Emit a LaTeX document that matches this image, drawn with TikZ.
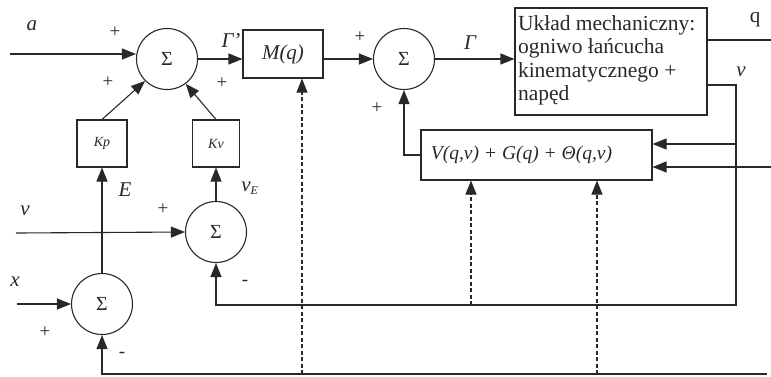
\documentclass[tikz,border=0pt]{standalone}
\usepackage{fontspec}
\setmainfont{Liberation Serif}
\usetikzlibrary{arrows.meta}
\definecolor{ink}{RGB}{40,40,40}
\begin{document}
\begin{tikzpicture}[x=1pt,y=-1pt,color=ink,line width=1.1pt,
  sumnode/.style={circle,draw,minimum size=61pt,inner sep=0pt,font=\fontsize{20}{20}\selectfont},
  blk/.style={rectangle,draw,inner sep=0pt},
  lbl/.style={font=\fontsize{21}{21}\selectfont\itshape,inner sep=0pt},
  sgn/.style={font=\fontsize{19}{19}\selectfont,inner sep=0pt},
  arr/.style={-{Triangle[length=14pt,width=11pt]}},
  dsh/.style={dash pattern=on 4pt off 2.5pt}]
\useasboundingbox (0,0) rectangle (771,376);
% blocks
\node[sumnode] (s1) at (167,59) {Σ};
\node[blk,minimum width=80pt,minimum height=48pt,font=\fontsize{21}{21}\selectfont\itshape] (M) at (283,54) {M(q)};
\node[sumnode] (s2) at (404,59) {Σ};
\node[blk,minimum width=192pt,minimum height=107pt,align=left,font=\fontsize{21.5}{23.5}\selectfont] (B) at (611,61.5)
  {\begin{minipage}{186pt}\vspace*{-2pt}Układ mechaniczny:\\ogniwo łańcucha\\kinematycznego +\\napęd\end{minipage}};
\node[blk,minimum width=50pt,minimum height=47pt,font=\fontsize{14}{14}\selectfont\itshape] (Kp) at (102,143.5) {Kp};
\node[blk,minimum width=47pt,minimum height=47pt,font=\fontsize{14}{14}\selectfont\itshape] (Kv) at (216,143.5) {Kv};
\node[blk,minimum width=231pt,minimum height=50pt,font=\fontsize{19.5}{19.5}\selectfont\itshape] (V) at (536.5,155)
  {\hspace*{-30pt}V(q,v) + G(q) + Θ(q,v)};
\node[sumnode] (s3) at (216,232) {Σ};
\node[sumnode] (s4) at (102,304) {Σ};
% coordinates
\coordinate (ain) at (10,54);
\coordinate (vin) at (16,233);
\coordinate (xin) at (17,304);
\coordinate (qout) at (771,40);
\coordinate (vc) at (736,85);
\coordinate (vbr) at (736,305);
\coordinate (vb1) at (736,144);
\coordinate (qin) at (771,167);
\coordinate (bot) at (767,374);
\coordinate (d1) at (302,374);
\coordinate (d2) at (471,305);
\coordinate (d3) at (597,374);
% connectors
\draw[arr] (ain) -- (ain -| s1.west);
\draw[arr] (s1.east) -- (s1.east -| M.west);
\draw[arr] (M.east |- s2.west) -- (s2.west);
\draw[arr] (s2.east) -- (s2.east -| B.west);
\draw (B.east |- qout) -- (qout);
\draw[arr] (B.east |- vc) -- (vc) -- (vbr) -- (vbr -| s3.south) -- (s3.south);
\draw[arr] (vb1) -- (vb1 -| V.east);
\draw[arr] (qin) -- (qin -| V.east);
\draw[arr] (V.west) -- (V.west -| s2.south) -- (s2.south);
\draw[arr] (Kp.north) -- (s1.225);
\draw[arr] (Kv.north) -- (s1.307);
\draw[arr] (s4.north) -- (Kp.south);
\draw[arr] (s3.north) -- (Kv.south);
\draw[arr] (vin) -- (s3.west);
\draw[arr] (xin) -- (s4.west);
\draw[arr] (bot) -- (bot -| s4.south) -- (s4.south);
\draw[arr,dsh] (d1) -- (d1 |- M.south);
\draw[arr,dsh] (d2) -- (d2 |- V.south);
\draw[arr,dsh] (d3) -- (d3 |- V.south);
% labels
\node[lbl] (la) at (32,26) {a};
\node[lbl] (lG1) at (231,41) {Γ'};
\node[lbl] (lG2) at (470,43) {Γ};
\node[lbl,font=\fontsize{21}{21}\selectfont] (lq) at (755,20) {q};
\node[lbl] (lv1) at (741,72) {v};
\node[lbl] (lE) at (125,190) {E};
\node[lbl] (lvE) at (250,188) {v\textsubscript{\fontsize{12}{12}\selectfont E}};
\node[lbl] (lv2) at (25,211) {v};
\node[lbl] (lx) at (15,282) {x};
\node[sgn] (p1) at (115,32) {+};
\node[sgn] (p2) at (108,82) {+};
\node[sgn] (p3) at (222,83) {+};
\node[sgn] (p4) at (360,37) {+};
\node[sgn] (p5) at (377,108) {+};
\node[sgn] (p6) at (163,209) {+};
\node[sgn] (p7) at (45,332) {+};
\node[sgn] (m1) at (245,283) {-};
\node[sgn] (m2) at (122,355) {-};
\end{tikzpicture}
\end{document}
